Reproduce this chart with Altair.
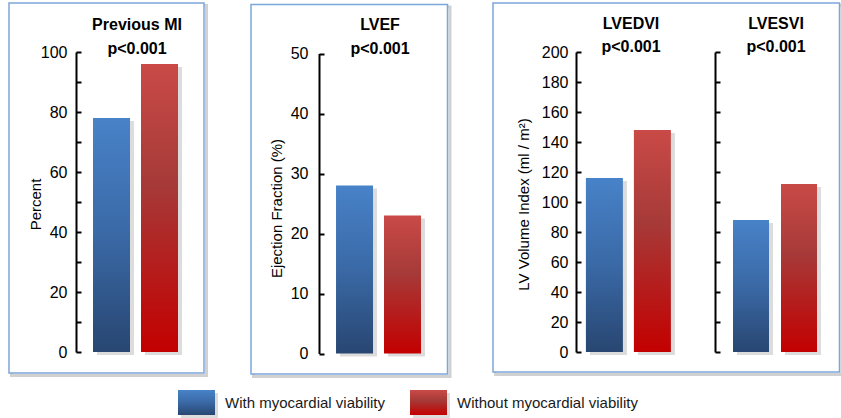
import altair as alt
import pandas as pd

# ---------------- data ----------------
panels = ["Previous MI", "LVEF", "LVEDVI", "LVESVI"]
p_values = ["p<0.001", "p<0.001", "p<0.001", "p<0.001"]
series = ["With myocardial viability", "Without myocardial viability"]
with_viability = [78, 28, 116, 88]
without_viability = [96, 23, 148, 112]
y_titles = ["Percent", "Ejection Fraction (%)", "LV Volume Index (ml / m\u00b2)", None]
y_domains = [[0, 100], [0, 50], [0, 200], [0, 200]]
label_values = [
    [0, 20, 40, 60, 80, 100],
    [0, 10, 20, 30, 40, 50],
    [0, 20, 40, 60, 80, 100, 120, 140, 160, 180, 200],
    [],
]
tick_values = [
    [0, 10, 20, 30, 40, 50, 60, 70, 80, 90, 100],
    [0, 10, 20, 30, 40, 50],
    [0, 20, 40, 60, 80, 100, 120, 140, 160, 180, 200],
    [0, 20, 40, 60, 80, 100, 120, 140, 160, 180, 200],
]

df = pd.DataFrame({
    "panel": [p for p in panels for _ in series],
    "series": series * len(panels),
    "value": [v for pair in zip(with_viability, without_viability) for v in pair],
})
dummy = pd.DataFrame({"k": [0]})

# ---------------- styles / layout ----------------
W, H = 841, 418
FONT = "Liberation Sans Narrow, Arial Narrow, Liberation Sans, Arial, sans-serif"
LABEL_SIZE = 16
TITLE_SIZE = 15
HEAD_SIZE = 16
LEGEND_SIZE = 15

geo = [
    dict(xr=[76, 195], pi=0.229, po=0.354, al=0.5, yr=[352, 52], ax=76, lp=9,
         tx=35, ty=204, cx=137, t1=29.5, t2=53.5),
    dict(xr=[319, 439], pi=0.229, po=0.365, al=0.486, yr=[353.5, 53.5], ax=319, lp=11,
         tx=276, ty=208, cx=380, t1=29.5, t2=53.5),
    dict(xr=[576, 694], pi=0.229, po=0.344, al=0.30, yr=[352, 52], ax=576, lp=8,
         tx=523, ty=204, cx=631, t1=28.5, t2=52),
    dict(xr=[715, 835], pi=0.25, po=0.375, al=0.5, yr=[352, 52], ax=715, lp=8,
         tx=0, ty=0, cx=776, t1=28.5, t2=52),
]

boxes = [(9, 204, 3, 373), (251, 447.5, 4.5, 374), (493, 839.5, 3, 372)]


def grad(stops):
    return alt.LinearGradient(
        gradient="linear",
        stops=[alt.GradientStop(color=c, offset=o) for o, c in stops],
        x1=0, x2=0, y1=0, y2=1,
    )


BLUE = grad([(0, "#4882c8"), (0.5, "#3a69a6"), (1, "#284671")])
RED = grad([(0, "#c94a47"), (0.42, "#a63a38"), (1, "#c30000")])


def panel_chart(i):
    g = geo[i]
    base = alt.Chart(df).transform_filter(alt.datum.panel == panels[i])
    xs = alt.Scale(domain=series, range=g["xr"], paddingInner=g["pi"],
                   paddingOuter=g["po"], align=g["al"])
    ys = alt.Scale(domain=y_domains[i], range=g["yr"], nice=False, zero=True)

    x_plain = alt.X("series:N", scale=xs, axis=None)
    y_plain = alt.Y("value:Q", scale=ys, axis=None)

    x_axis = alt.Axis(orient="bottom", offset=g["yr"][0] - H, labels=False,
                      ticks=False, title=None, domain=True, domainColor="black",
                      domainWidth=2, grid=False, zindex=2)
    main_kwargs = dict(orient="left", offset=-g["ax"], values=label_values[i],
                       ticks=False, tickSize=0, labelPadding=g["lp"], domain=True,
                       domainColor="black", domainWidth=2, grid=False, zindex=2,
                       labelFont=FONT, labelFontSize=LABEL_SIZE, labelColor="black")
    if y_titles[i] is None:
        main_kwargs.update(labels=False, title=None)
    else:
        main_kwargs.update(title=y_titles[i], titleFont=FONT, titleFontSize=TITLE_SIZE,
                           titleFontWeight="normal", titleColor="black",
                           titleX=g["tx"] - g["ax"], titleY=g["ty"],
                           titleAngle=270, titleAlign="center",
                           titleBaseline="middle")
    y_axis = alt.Axis(**main_kwargs)
    tick_axis = alt.Axis(orient="left", offset=-(g["ax"] + 5), values=tick_values[i],
                         domain=False, labels=False, ticks=True, tickSize=5,
                         tickWidth=2, tickColor="black", grid=False, title=None,
                         zindex=2)

    shadow = base.mark_bar(color="#8a8a8a", opacity=0.3, xOffset=4, yOffset=3,
                           y2Offset=3).encode(x=x_plain, y=y_plain)
    blue = base.transform_filter(alt.datum.series == series[0]).mark_bar(
        color=BLUE).encode(x=alt.X("series:N", scale=xs, axis=x_axis),
                           y=alt.Y("value:Q", scale=ys, axis=y_axis))
    red = base.transform_filter(alt.datum.series == series[1]).mark_bar(
        color=RED).encode(x=x_plain, y=y_plain)
    ticks = base.mark_bar(opacity=0).encode(
        x=x_plain, y=alt.Y("value:Q", scale=ys, axis=tick_axis))
    return alt.layer(shadow, blue, red, ticks).resolve_axis(y="independent")


layers = []
# panel boxes
for (x0, x1, y0, y1) in boxes:
    layers.append(alt.Chart(dummy).mark_rect(
        fill="white", fillOpacity=0, stroke="#9a9a9a", strokeWidth=3, strokeOpacity=0.45
    ).encode(x=alt.value(x0 + 2.5), x2=alt.value(x1 + 2.5),
             y=alt.value(y0 + 2.5), y2=alt.value(y1 + 2.5)))
    layers.append(alt.Chart(dummy).mark_rect(
        fill="white", stroke="#7ea6da", strokeWidth=1.5
    ).encode(x=alt.value(x0), x2=alt.value(x1), y=alt.value(y0), y2=alt.value(y1)))

for i in range(len(panels)):
    layers.append(panel_chart(i))

# panel titles
for i in range(len(panels)):
    g = geo[i]
    layers.append(alt.Chart(dummy).mark_text(
        font=FONT, fontSize=HEAD_SIZE, fontWeight="bold", color="black", align="center",
        baseline="alphabetic").encode(x=alt.value(g["cx"]), y=alt.value(g["t1"]),
                                      text=alt.value(panels[i])))
    layers.append(alt.Chart(dummy).mark_text(
        font=FONT, fontSize=HEAD_SIZE, fontWeight="bold", color="black", align="center",
        baseline="alphabetic").encode(x=alt.value(g["cx"]), y=alt.value(g["t2"]),
                                      text=alt.value(p_values[i])))

# legend
legend_pos = [178, 410]
for s, fill, lx in zip(series, [BLUE, RED], legend_pos):
    layers.append(alt.Chart(dummy).mark_rect(color="#8a8a8a", opacity=0.3).encode(
        x=alt.value(lx + 3), x2=alt.value(lx + 40), y=alt.value(393), y2=alt.value(418)))
    layers.append(alt.Chart(dummy).mark_rect(color=fill).encode(
        x=alt.value(lx), x2=alt.value(lx + 37), y=alt.value(390), y2=alt.value(415)))
    layers.append(alt.Chart(dummy).mark_text(
        font=FONT, fontSize=LEGEND_SIZE, color="#1a1a1a", align="left", baseline="middle"
    ).encode(x=alt.value(lx + 47), y=alt.value(403), text=alt.value(s)))

chart = alt.layer(*layers).resolve_scale(
    x="independent", y="independent"
).resolve_axis(
    x="independent", y="independent"
).properties(
    width=W, height=H, autosize=alt.AutoSizeParams(type="none"), padding=0
).configure_view(stroke=None)

chart.save("out.html", embed_options={"renderer": "svg", "actions": False})
